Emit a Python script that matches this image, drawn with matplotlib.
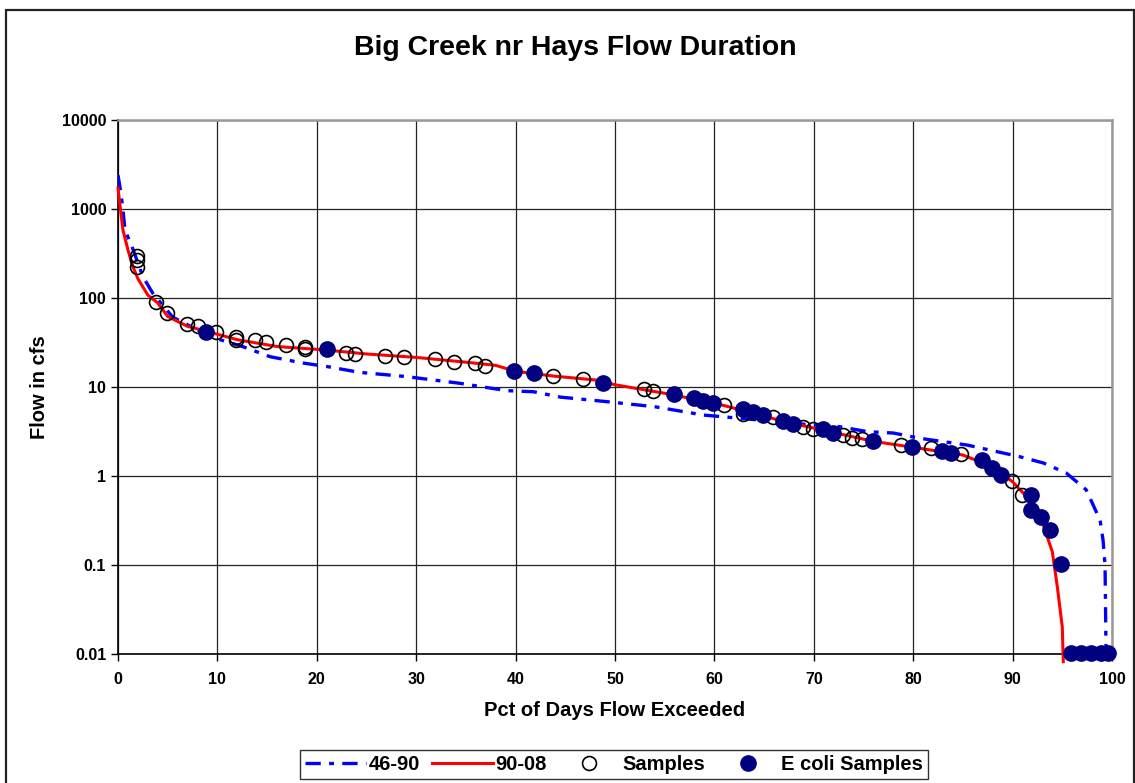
import matplotlib
matplotlib.use("Agg")
import matplotlib.pyplot as plt
from matplotlib.patches import Rectangle
from matplotlib.ticker import FixedLocator, FuncFormatter

plt.rcParams["font.family"] = ["Liberation Sans", "DejaVu Sans"]
plt.rcParams["font.weight"] = "bold"
plt.rcParams["lines.scale_dashes"] = False

# flow duration curve, 1946-1990
pct_4690 = [0, 0.3, 0.5, 0.7, 1.4, 2.5, 3.5, 5.5, 9.3, 12.6, 15.3, 18.6, 21, 24.3,
            29, 31.7, 34.4, 39.1, 41.8, 44.5, 49.2, 54, 58.9, 62.6, 66, 69.9, 72.6,
            75.4, 78, 80.7, 85.4, 90.7, 93.1, 95.4, 97.4, 98.8, 99.1, 99.3, 99.4]
flow_4690 = [2400, 1500, 980, 580, 380, 174, 113, 61, 36.7, 28.3, 21.9, 18.6, 17, 14.6,
             13.1, 12, 11, 9.1, 8.85, 7.7, 6.84, 6.0, 4.84, 4.45, 4.1, 3.74, 3.58,
             3.15, 3.04, 2.65, 2.23, 1.65, 1.4, 1.08, 0.70, 0.32, 0.19, 0.1, 0.0102]

# flow duration curve, 1990-2008
pct_9008 = [0, 0.2, 0.5, 1.0, 1.5, 2, 3, 4, 5, 7, 9, 12, 16, 21, 25, 30, 35, 38, 40,
            44, 48, 50, 52, 55, 60, 63, 67, 70, 76, 80, 85, 88, 90, 92, 93, 94, 94.5,
            95, 95.1]
flow_9008 = [1720, 1100, 580, 347, 225, 165, 108, 88, 62, 48, 42, 34, 28.5, 26, 23.5,
             21.5, 19, 17.5, 15, 13.2, 12, 10.6, 9.7, 8.5, 6.6, 5.4, 4.1, 3.45, 2.45,
             2.1, 1.72, 1.27, 0.86, 0.5, 0.3, 0.14, 0.057, 0.02, 0.0082]

# sample points
pct_samples = [1.9, 1.9, 1.9, 3.8, 4.9, 6.9, 8.0, 9.9, 11.9, 11.9, 13.8, 14.9, 16.9,
               18.8, 18.8, 22.9, 23.8, 26.9, 28.8, 31.9, 33.8, 35.9, 36.9, 43.8, 46.8,
               52.9, 53.8, 61.0, 62.9, 65.9, 68.9, 69.9, 72.9, 73.8, 74.8, 78.8, 81.8,
               84.8, 89.9, 90.9]
flow_samples = [300, 265, 222, 91, 67, 51, 49, 42, 36, 34, 33.5, 31.8, 29.4, 28.3,
                26.8, 24.3, 23.3, 22.3, 21.6, 20.6, 19.2, 18.4, 17.4, 13.4, 12.3, 9.5,
                9.0, 6.3, 5.0, 4.57, 3.58, 3.35, 2.89, 2.65, 2.58, 2.23, 2.05, 1.75,
                0.88, 0.61]

pct_ecoli = [8.85, 21, 39.8, 41.9, 48.8, 55.9, 57.9, 58.9, 59.9, 62.9, 63.9, 64.9,
             66.9, 67.9, 70.9, 71.9, 76.0, 79.9, 82.9, 83.8, 86.9, 87.9, 88.8, 91.9,
             91.9, 92.9, 93.8, 94.9, 95.9, 96.9, 97.9, 98.9, 99.6]
flow_ecoli = [41.8, 26.5, 15.1, 14.5, 11.0, 8.35, 7.47, 7.0, 6.66, 5.66, 5.28, 4.84,
              4.18, 3.84, 3.35, 3.02, 2.49, 2.1, 1.91, 1.83, 1.51, 1.24, 1.03, 0.61,
              0.415, 0.35, 0.25, 0.102, 0.0102, 0.0102, 0.0102, 0.0102, 0.0102]

y_ticks = [0.01, 0.1, 1, 10, 100, 1000, 10000]

W, H = 1135, 783
fig = plt.figure(figsize=(W / 100, H / 100), dpi=100)
ax = fig.add_axes([118 / W, 1 - 654 / H, 994 / W, 534 / H])

ax.plot(pct_4690, flow_4690, color="#0000FF", lw=2.4, dashes=(11, 6, 3.5, 6),
        label="46-90", zorder=3)
ax.plot(pct_9008, flow_9008, color="#FF0000", lw=2.2, label="90-08", zorder=3,
        clip_on=False)
ax.plot(pct_samples, flow_samples, ls="none", marker="o", ms=10, mfc="none",
        mec="black", mew=1.2, label="Samples", zorder=4)
ax.plot(pct_ecoli, flow_ecoli, ls="none", marker="o", ms=11, mfc="#000080",
        mec="#000080", label="E coli Samples", zorder=5, clip_on=False)

ax.set_yscale("log")
ax.set_ylim(0.01, 10000)
ax.set_xlim(0, 100)
ax.xaxis.set_major_locator(FixedLocator(range(0, 101, 10)))
ax.yaxis.set_major_locator(FixedLocator(y_ticks))
ax.yaxis.set_minor_locator(FixedLocator([]))
ax.yaxis.set_major_formatter(FuncFormatter(lambda v, p: f"{v:g}"))
ax.tick_params(axis="both", direction="out", length=5, width=1, labelsize=11.5,
               color="black")
ax.tick_params(axis="x", pad=8)
ax.grid(True, color="#222222", lw=0.9)
ax.set_axisbelow(True)
for s in ("left", "bottom"):
    ax.spines[s].set_color("black")
    ax.spines[s].set_linewidth(1.2)
for s in ("top", "right"):
    ax.spines[s].set_color("#999999")
    ax.spines[s].set_linewidth(1.8)

ax.set_xlabel("Pct of Days Flow Exceeded", fontsize=14.5, fontweight="bold")
ax.set_ylabel("Flow in cfs", fontsize=14.5, fontweight="bold")
ax.xaxis.set_label_coords(0.5, -(701 - 654) / 534)
ax.yaxis.set_label_coords(-(118 - 49) / 994, 0.5)

fig.text(575 / W, 1 - 48 / H, "Big Creek nr Hays Flow Duration", ha="center",
         va="center", fontsize=20.5, fontweight="bold")

fig.legend(loc="center", bbox_to_anchor=(614 / W, 1 - 764.5 / H), ncol=4,
           fontsize=14.5, frameon=True, fancybox=False, edgecolor="black",
           handlelength=3.0, handletextpad=0.15, columnspacing=0.6,
           borderpad=0.25, borderaxespad=0)

fig.patches.append(Rectangle((6 / W, -0.05), 1128 / W, 1.05 - 10 / H, fill=False,
                             edgecolor="#222222", lw=1.6, transform=fig.transFigure))

fig.savefig("out.png", dpi=100)
